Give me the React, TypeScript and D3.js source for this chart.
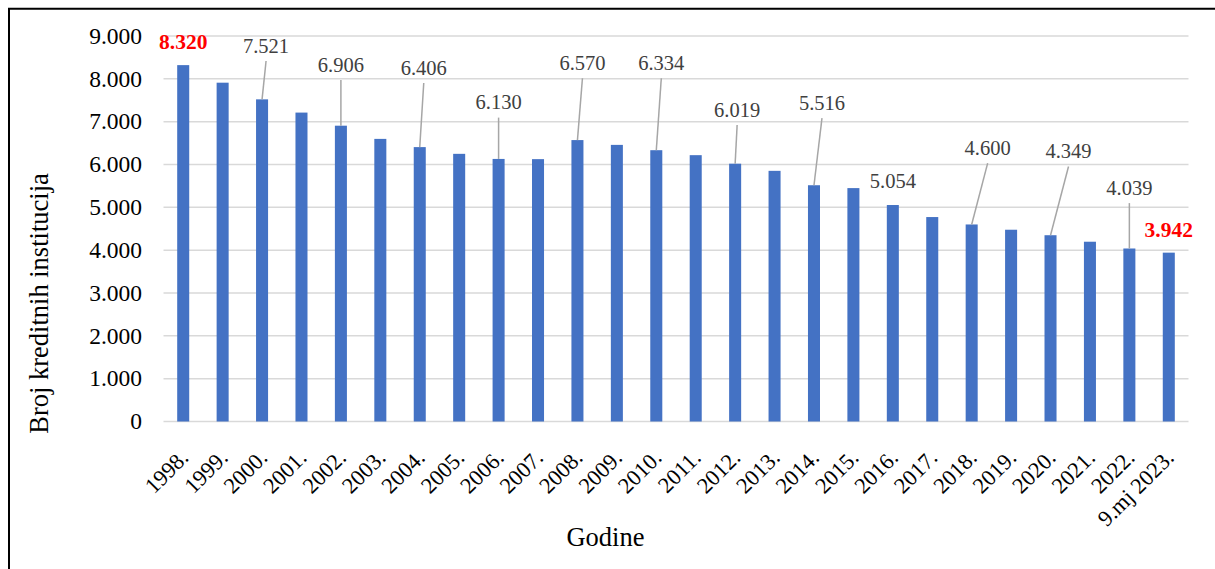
import React, { useEffect, useRef } from 'react';
import * as d3 from 'd3';

// godine i broj kreditnih institucija
const years = [
  '1998.', '1999.', '2000.', '2001.', '2002.', '2003.', '2004.', '2005.', '2006.',
  '2007.', '2008.', '2009.', '2010.', '2011.', '2012.', '2013.', '2014.', '2015.',
  '2016.', '2017.', '2018.', '2019.', '2020.', '2021.', '2022.', '9.mj 2023.',
];
const values = [
  8320, 7910, 7521, 7212, 6906, 6598, 6406, 6249, 6130, 6125, 6570, 6458, 6334,
  6218, 6019, 5852, 5516, 5449, 5054, 4773, 4600, 4477, 4349, 4197, 4039, 3942,
];

// oznake podataka: indeks stupca, razina oznake (u jedinicama osi), pomak x, isticanje
const labelIndex = [0, 2, 4, 6, 8, 10, 12, 14, 16, 18, 20, 22, 24, 25];
const labelLevel = [8860, 8767, 8324, 8254, 7445, 8363, 8363, 7274, 7431, 5603, 6381, 6302, 5449, 4477];
const labelShift = [0, 4, 0, 4, 0, 5, 5, 2, 8, 0, 16, 18, 0, 0];
const labelLeader = [false, true, true, true, true, true, true, true, true, false, true, true, true, false];
const labelHighlight = [true, false, false, false, false, false, false, false, false, false, false, false, false, true];

const yTicks = [0, 1000, 2000, 3000, 4000, 5000, 6000, 7000, 8000, 9000];

const fmt = (v: number) => d3.format(',')(v).replace(/,/g, '.');

export default function App() {
  const ref = useRef<SVGSVGElement>(null);

  useEffect(() => {
    const width = 1215;
    const height = 569;
    const margin = { top: 36, bottom: 147.5, left: 163.5, right: 26.5 };
    const font = '"Liberation Serif", "Times New Roman", serif';

    const svg = d3.select(ref.current);
    svg.selectAll('*').remove();

    // okvir
    svg
      .append('path')
      .attr('d', `M9,${height + 2} V8.75 H${width + 2}`)
      .attr('fill', 'none')
      .attr('stroke', '#000')
      .attr('stroke-width', 2);

    const xScale = d3
      .scaleBand()
      .domain(years)
      .range([margin.left, width - margin.right])
      .paddingInner(0.695)
      .paddingOuter(0.3475);

    const yScale = d3
      .scaleLinear()
      .domain([0, 9000])
      .range([height - margin.bottom, margin.top]);

    // mreža
    svg
      .append('g')
      .selectAll('line')
      .data(yTicks)
      .enter()
      .append('line')
      .attr('x1', margin.left)
      .attr('x2', width - margin.right)
      .attr('y1', (d) => yScale(d))
      .attr('y2', (d) => yScale(d))
      .attr('stroke', '#d9d9d9')
      .attr('stroke-width', 1.5);

    // y oznake
    svg
      .append('g')
      .selectAll('text')
      .data(yTicks)
      .enter()
      .append('text')
      .attr('x', 142)
      .attr('y', (d) => yScale(d))
      .attr('dy', '0.33em')
      .attr('text-anchor', 'end')
      .attr('font-family', font)
      .attr('font-size', 23.5)
      .attr('fill', '#000')
      .text((d) => fmt(d));

    // stupci
    svg
      .append('g')
      .selectAll('rect')
      .data(values)
      .enter()
      .append('rect')
      .attr('x', (_, i) => xScale(years[i]) as number)
      .attr('y', (d) => yScale(d))
      .attr('width', xScale.bandwidth())
      .attr('height', (d) => yScale(0) - yScale(d))
      .attr('fill', '#4472c4');

    // x oznake
    const cx = (i: number) => (xScale(years[i]) as number) + xScale.bandwidth() / 2;
    svg
      .append('g')
      .selectAll('text')
      .data(years)
      .enter()
      .append('text')
      .attr('transform', (_, i) => `translate(${cx(i) + 1},${yScale(0) + 32}) rotate(-45)`)
      .attr('text-anchor', 'end')
      .attr('dy', '0.35em')
      .attr('font-family', font)
      .attr('font-size', 22.5)
      .attr('fill', '#000')
      .text((d) => d);

    // oznake podataka
    const labels = labelIndex.map((idx, k) => ({
      idx,
      value: values[idx],
      x: cx(idx) + labelShift[k],
      y: yScale(labelLevel[k]),
      leader: labelLeader[k],
      hi: labelHighlight[k],
    }));

    svg
      .append('g')
      .selectAll('line')
      .data(labels.filter((d) => d.leader))
      .enter()
      .append('line')
      .attr('x1', (d) => d.x)
      .attr('y1', (d) => d.y + 15)
      .attr('x2', (d) => cx(d.idx))
      .attr('y2', (d) => yScale(d.value))
      .attr('stroke', '#a6a6a6')
      .attr('stroke-width', 1.5);

    svg
      .append('g')
      .selectAll('text')
      .data(labels)
      .enter()
      .append('text')
      .attr('x', (d) => d.x)
      .attr('y', (d) => d.y)
      .attr('dy', '0.33em')
      .attr('text-anchor', 'middle')
      .attr('font-family', font)
      .attr('font-size', (d) => (d.hi ? 21.5 : 20.5))
      .attr('font-weight', (d) => (d.hi ? 'bold' : 'normal'))
      .attr('fill', (d) => (d.hi ? '#ff0000' : '#404040'))
      .text((d) => fmt(d.value));

    // naslovi osi
    svg
      .append('text')
      .attr('x', 605.5)
      .attr('y', 546)
      .attr('text-anchor', 'middle')
      .attr('font-family', font)
      .attr('font-size', 26.5)
      .attr('fill', '#000')
      .text('Godine');

    svg
      .append('text')
      .attr('transform', `translate(48,${yScale(0) - 118}) rotate(-90)`)
      .attr('text-anchor', 'middle')
      .attr('font-family', font)
      .attr('font-size', 26.5)
      .attr('fill', '#000')
      .text('Broj kreditnih institucija');
  }, []);

  return (
    <svg
      ref={ref}
      width={1215}
      height={569}
      style={{ position: 'absolute', left: 0, top: 0, background: '#fff' }}
    />
  );
}
